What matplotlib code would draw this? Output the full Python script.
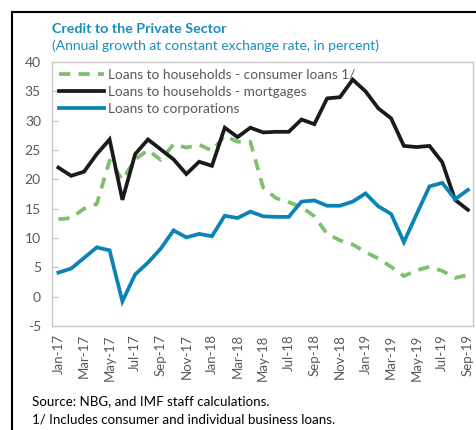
import matplotlib
matplotlib.use("Agg")
import matplotlib.pyplot as plt
from matplotlib.lines import Line2D

months = ["Jan-17","Feb-17","Mar-17","Apr-17","May-17","Jun-17","Jul-17","Aug-17","Sep-17","Oct-17","Nov-17","Dec-17",
          "Jan-18","Feb-18","Mar-18","Apr-18","May-18","Jun-18","Jul-18","Aug-18","Sep-18","Oct-18","Nov-18","Dec-18",
          "Jan-19","Feb-19","Mar-19","Apr-19","May-19","Jun-19","Jul-19","Aug-19","Sep-19"]

consumer = [13.2, 13.4, 15.0, 15.8, 23.2, 19.9, 23.4, 25.0, 23.3, 26.0, 25.4, 25.9,
            24.9, 27.4, 26.4, 26.4, 18.6, 16.8, 16.1, 15.3, 13.7, 10.7, 9.6, 8.9,
            7.6, 6.5, 5.1, 3.5, 4.5, 5.1, 4.4, 3.2, 3.7]
mortgages = [22.0, 20.6, 21.3, 24.3, 26.8, 16.5, 24.3, 26.8, 25.1, 23.4, 20.9, 23.0,
             22.3, 28.8, 27.2, 28.8, 28.0, 28.1, 28.1, 30.2, 29.4, 33.8, 34.0, 37.0,
             35.0, 32.1, 30.4, 25.7, 25.5, 25.7, 22.9, 16.5, 14.8]
corporations = [4.1, 4.8, 6.6, 8.4, 7.9, -0.8, 3.8, 5.8, 8.2, 11.3, 10.1, 10.7,
                10.3, 13.8, 13.4, 14.5, 13.7, 13.6, 13.6, 16.2, 16.4, 15.5, 15.5, 16.2,
                17.6, 15.4, 14.1, 9.3, 14.1, 18.8, 19.4, 16.6, 18.2]

series_labels = ["Loans to households - consumer loans 1/",
                 "Loans to households - mortgages",
                 "Loans to corporations"]
yticks = [-5, 0, 5, 10, 15, 20, 25, 30, 35, 40]

title = "Credit to the Private Sector"
subtitle = "(Annual growth at constant exchange rate, in percent)"
footer1 = "Source: NBG, and IMF staff calculations."
footer2 = "1/ Includes consumer and individual business loans."

plt.rcParams['font.family'] = ['Lato', 'DejaVu Sans']

W, H = 477, 430
fig = plt.figure(figsize=(W/100, H/100), dpi=100)
ax = fig.add_axes([52/W, 1-326/H, (473-52)/W, (326-62)/H])

x = list(range(len(months)))
green = "#7fbf6e"
black = "#1a1a1a"
blue = "#0a84b4"
gray = "#595959"

ax.plot(x, consumer, color=green, lw=2.7, ls=(0, (3, 2.2)), label=series_labels[0])
ax.plot(x, mortgages, color=black, lw=2.7, label=series_labels[1], solid_joinstyle='miter')
ax.plot(x, corporations, color=blue, lw=2.7, label=series_labels[2], solid_joinstyle='miter')

ax.set_xlim(-0.5, 32.4)
ax.set_ylim(-5, 40)
ax.set_yticks(yticks)
ax.set_yticklabels([str(v) for v in yticks], color=gray, fontsize=10)
ax.set_xticks(x[::2])
ax.set_xticklabels(months[::2], rotation=90, color=gray, fontsize=9.5)
ax.tick_params(axis='y', direction='in', length=4, color='#bfbfbf', pad=8)
ax.tick_params(axis='x', length=0, pad=6)
for s in ax.spines.values():
    s.set_color('#c8c8c8')
    s.set_linewidth(1.0)

leg = ax.legend(loc='upper left', frameon=False, fontsize=9.8, handlelength=3.3,
                handletextpad=0.3, labelspacing=0.38, borderaxespad=0.1,
                bbox_to_anchor=(0.0, 1.0))
for t in leg.get_texts():
    t.set_color(gray)

fig.text(52/W, 1-29/H, title, color="#1a8cbf", fontsize=10.3, fontweight='bold', va='center', ha='left')
fig.text(52/W, 1-46/H, subtitle, color="#1a8cbf", fontsize=10, va='center', ha='left')
fig.text(32/W, 1-401/H, footer1, color="black", fontsize=9.6, va='center', ha='left')
fig.text(32/W, 1-419/H, footer2, color="black", fontsize=9.6, va='center', ha='left')

fig.add_artist(Line2D([12/W, 12/W], [0, 1-12/H], transform=fig.transFigure, color='black', lw=1.5))
fig.add_artist(Line2D([12/W, 1], [1-12/H, 1-12/H], transform=fig.transFigure, color='black', lw=1.5))

fig.savefig("out.png", dpi=100)
